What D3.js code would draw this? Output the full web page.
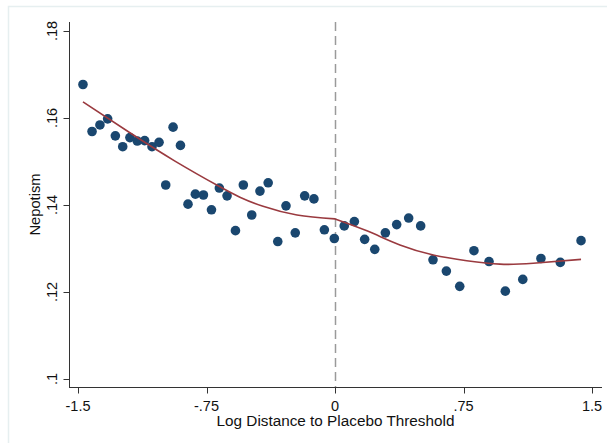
<!DOCTYPE html>
<html>
<head>
<meta charset="utf-8">
<script src="https://cdn.jsdelivr.net/npm/d3@7"></script>
<style>
  html, body { margin: 0; padding: 0; background: #fff; }
  svg { display: block; }
  text { font-family: "Liberation Sans", Arial, sans-serif; fill: #111; }
</style>
</head>
<body>
<svg id="chart" width="607" height="443"></svg>
<script>
// Binned means of nepotism by log distance to the placebo threshold
const binX = [-1.471, -1.418, -1.372, -1.327, -1.282, -1.239, -1.197, -1.154, -1.111, -1.068,
  -1.027, -0.988, -0.945, -0.902, -0.858, -0.815, -0.768, -0.721, -0.675, -0.630,
  -0.581, -0.535, -0.486, -0.438, -0.390, -0.334, -0.286, -0.232, -0.177, -0.123,
  -0.062, -0.004, 0.054, 0.113, 0.173, 0.232, 0.294, 0.360, 0.430, 0.500,
  0.572, 0.650, 0.728, 0.811, 0.899, 0.994, 1.096, 1.202, 1.315, 1.436];
const binY = [0.1677, 0.1569, 0.1584, 0.1598, 0.1559, 0.1534, 0.1555, 0.1547, 0.1548, 0.1534,
  0.1544, 0.1446, 0.1579, 0.1537, 0.1402, 0.1425, 0.1423, 0.1389, 0.1439, 0.1421,
  0.1341, 0.1446, 0.1377, 0.1432, 0.1451, 0.1316, 0.1398, 0.1336, 0.1421, 0.1414,
  0.1343, 0.1323, 0.1352, 0.1362, 0.1321, 0.1298, 0.1336, 0.1355, 0.1370, 0.1352,
  0.1274, 0.1248, 0.1213, 0.1295, 0.1270, 0.1202, 0.1229, 0.1277, 0.1268, 0.1318];

// Fitted values, left of the threshold
const fitLeftX = [-1.471, -1.197, -0.934, -0.677, -0.555, -0.420, -0.222, 0];
const fitLeftY = [0.1637, 0.1566, 0.1501, 0.1443, 0.1418, 0.1397, 0.1377, 0.1368];
// Fitted values, right of the threshold
const fitRightX = [0, 0.190, 0.379, 0.574, 0.769, 0.963, 1.157, 1.436];
const fitRightY = [0.1368, 0.1340, 0.1308, 0.1285, 0.1272, 0.1264, 0.1266, 0.1275];

const xTicks = [-1.5, -0.75, 0, 0.75, 1.5];
const xTickLabels = ["-1.5", "-.75", "0", ".75", "1.5"];
const yTicks = [0.10, 0.12, 0.14, 0.16, 0.18];
const yTickLabels = [".1", ".12", ".14", ".16", ".18"];
const threshold = 0;

const svg = d3.select("#chart");

// Faint outer frame of the graph region
svg.append("rect")
  .attr("x", 8.5).attr("y", 6.5)
  .attr("width", 640).attr("height", 480)
  .attr("fill", "none")
  .attr("stroke", "#e6eff0")
  .attr("stroke-width", 1.5);

const plotLeft = 69, plotRight = 602, plotTop = 22, plotBottom = 387;

const x = d3.scaleLinear()
  .domain([-1.5, 1.5])
  .range([78, 592]);
const y = d3.scaleLinear()
  .domain([0.10, 0.18])
  .range([379, 31]);

// Axes
const xAxis = svg.append("g").attr("transform", `translate(0,${plotBottom + 0.5})`);
xAxis.append("line")
  .attr("x1", plotLeft).attr("x2", plotRight)
  .attr("stroke", "#333").attr("stroke-width", 1);
xAxis.selectAll("line.tick").data(xTicks).join("line")
  .attr("class", "tick")
  .attr("x1", d => Math.round(x(d)) + 0.5).attr("x2", d => Math.round(x(d)) + 0.5)
  .attr("y1", 0).attr("y2", 6)
  .attr("stroke", "#333");
xAxis.selectAll("text").data(xTicks).join("text")
  .attr("x", d => x(d))
  .attr("y", 23)
  .attr("text-anchor", "middle")
  .style("font-size", "14.5px")
  .text((d, i) => xTickLabels[i]);

const yAxis = svg.append("g").attr("transform", `translate(${plotLeft + 0.5},0)`);
yAxis.append("line")
  .attr("y1", plotTop).attr("y2", plotBottom + 0.5)
  .attr("stroke", "#333").attr("stroke-width", 1);
yAxis.selectAll("line.tick").data(yTicks).join("line")
  .attr("class", "tick")
  .attr("y1", d => Math.round(y(d)) + 0.5).attr("y2", d => Math.round(y(d)) + 0.5)
  .attr("x1", 0).attr("x2", -6)
  .attr("stroke", "#333");
yAxis.selectAll("text").data(yTicks).join("text")
  .attr("transform", d => `translate(-13,${y(d)}) rotate(-90)`)
  .attr("text-anchor", "middle")
  .style("font-size", "14.5px")
  .text((d, i) => yTickLabels[i]);

// Axis titles
svg.append("text")
  .attr("x", (plotLeft + plotRight) / 2)
  .attr("y", 426)
  .attr("text-anchor", "middle")
  .style("font-size", "15.3px")
  .text("Log Distance to Placebo Threshold");
svg.append("text")
  .attr("transform", `translate(40,${(plotTop + plotBottom) / 2}) rotate(-90)`)
  .attr("text-anchor", "middle")
  .style("font-size", "14.7px")
  .text("Nepotism");

// Threshold marker
svg.append("line")
  .attr("x1", Math.round(x(threshold)) + 0.5).attr("x2", Math.round(x(threshold)) + 0.5)
  .attr("y1", plotTop).attr("y2", plotBottom)
  .attr("stroke", "#9a9a9a")
  .attr("stroke-width", 1.5)
  .attr("stroke-dasharray", "9,5");

// Scatter of binned means
svg.append("g").selectAll("circle")
  .data(binX.map((v, i) => [v, binY[i]]))
  .join("circle")
  .attr("cx", d => x(d[0]))
  .attr("cy", d => y(d[1]))
  .attr("r", 4.8)
  .attr("fill", "#1a476f");

// Fitted curves on each side of the threshold
const line = d3.line()
  .x(d => x(d[0]))
  .y(d => y(d[1]))
  .curve(d3.curveNatural);
[[fitLeftX, fitLeftY], [fitRightX, fitRightY]].forEach(([fx, fy]) => {
  svg.append("path")
    .datum(fx.map((v, i) => [v, fy[i]]))
    .attr("d", line)
    .attr("fill", "none")
    .attr("stroke", "#9a3a3f")
    .attr("stroke-width", 1.6);
});
</script>
</body>
</html>
